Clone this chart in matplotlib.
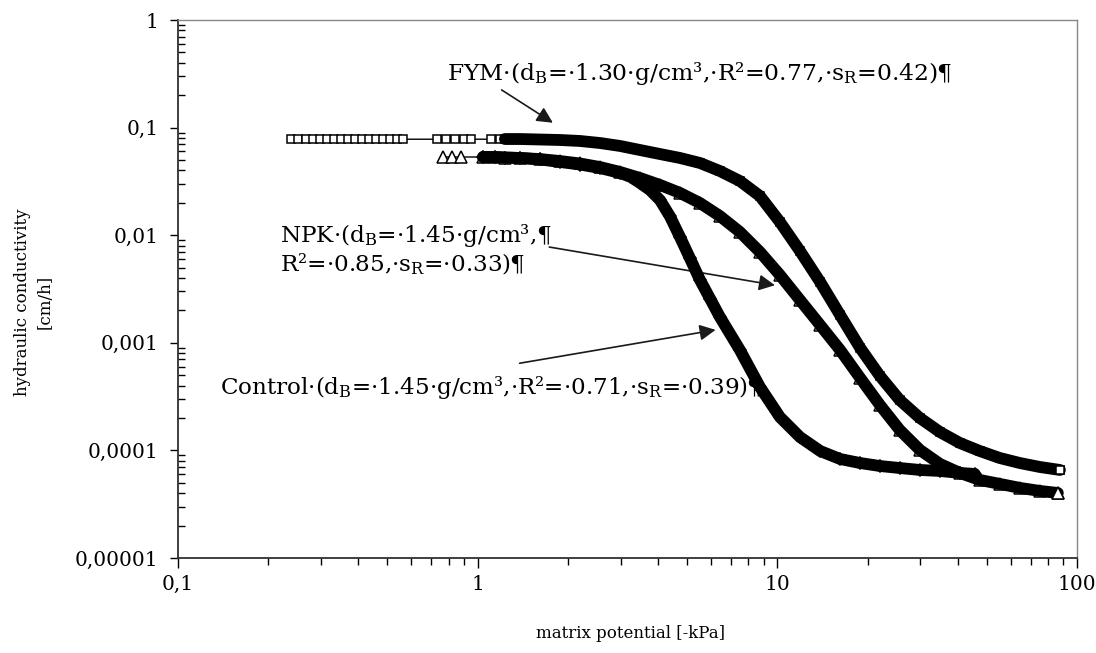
import matplotlib
matplotlib.use("Agg")
import matplotlib.pyplot as plt
from matplotlib.ticker import FixedLocator, FixedFormatter, NullFormatter

plt.rcParams['font.family'] = ['DejaVu Serif']
plt.rcParams['mathtext.fontset'] = 'dejavuserif'

# ---------------- data ----------------
x_ticks = [0.1, 1, 10, 100]
x_tick_labels = ["0,1", "1", "10", "100"]
y_ticks = [1e-5, 1e-4, 1e-3, 1e-2, 1e-1, 1]
y_tick_labels = ["0,00001", "0,0001", "0,001", "0,01", "0,1", "1"]

# FYM (squares)
fym_x = [0.238, 0.251, 0.267, 0.282, 0.298, 0.314, 0.332, 0.350, 0.369, 0.390,
         0.411, 0.434, 0.458, 0.483, 0.509, 0.538, 0.564,
         0.731, 0.783, 0.839, 0.899, 0.951,
         1.107, 1.187,
         1.233, 1.384, 1.614, 1.882, 2.195, 2.559, 2.985, 3.481, 4.059, 4.733,
         5.519, 6.43, 7.50, 8.75, 10.2, 11.9, 13.9, 16.2, 18.9, 22.0,
         25.6, 29.9, 34.9, 40.7, 47.4, 55.3, 64.5, 75.2, 87.7]
fym_y = [0.078, 0.078, 0.078, 0.078, 0.078, 0.078, 0.078, 0.078, 0.078, 0.078,
         0.078, 0.078, 0.078, 0.078, 0.078, 0.078, 0.078,
         0.078, 0.078, 0.078, 0.078, 0.078,
         0.078, 0.078,
         0.0783, 0.0783, 0.0775, 0.0767, 0.0751, 0.0719, 0.0675, 0.0619, 0.0568, 0.0522,
         0.0469, 0.0395, 0.0319, 0.0231, 0.01327, 0.00713, 0.00367, 0.00181, 0.000895, 0.000491,
         0.000294, 0.000200, 0.000148, 0.000117, 9.87e-5, 8.49e-5, 7.63e-5, 7.01e-5, 6.58e-5]

# NPK (triangles)
npk_x = [0.765, 0.820, 0.879,
         1.042, 1.142, 1.233, 1.384, 1.614, 1.882, 2.195, 2.559, 2.985, 3.481,
         4.059, 4.733, 5.519, 6.43, 7.50, 8.75, 10.2, 11.9, 13.9, 16.2,
         18.9, 22.0, 25.6, 29.9, 34.9, 40.7, 47.4, 55.3, 64.5, 75.2, 86.3]
npk_y = [0.0533, 0.0533, 0.0533,
         0.0533, 0.0533, 0.0527, 0.0522, 0.0510, 0.0489, 0.0464, 0.0430, 0.0387, 0.0340,
         0.0293, 0.0247, 0.0199, 0.01507, 0.01071, 0.00698, 0.00427, 0.00250, 0.00146, 0.000857,
         0.000471, 0.000264, 0.000155, 0.000101, 7.48e-5, 6.17e-5, 5.31e-5, 4.88e-5, 4.48e-5, 4.20e-5, 4.02e-5]

# Control (diamonds)
ctl_x = [1.042, 1.142, 1.233, 1.384, 1.614, 1.882, 2.195, 2.559, 2.985, 3.24, 3.481,
         3.76, 4.059, 4.38, 4.733, 5.11, 5.519, 5.96, 6.43, 7.50, 8.75, 10.2, 11.9, 13.9, 16.2,
         18.9, 22.0, 25.6, 29.9, 34.9, 40.7, 45.6]
ctl_y = [0.0533, 0.0533, 0.0527, 0.0522, 0.0506, 0.0479, 0.0454, 0.0421, 0.0379, 0.0348, 0.0306,
         0.0263, 0.0212, 0.0150, 0.00962, 0.00610, 0.00384, 0.00258, 0.00174, 0.000857, 0.000388,
         0.000204, 0.000133, 9.87e-5, 8.32e-5,
         7.63e-5, 7.16e-5, 6.86e-5, 6.58e-5, 6.44e-5, 6.17e-5, 6.04e-5]

# start of the densely measured part (kPa) for each series
fym_dense_from = 1.2
npk_dense_from = 1.0
ctl_dense_from = 1.0

label_fym = r"FYM·(d$_\mathregular{B}$=·1.30·g/cm³,·R²=0.77,·s$_\mathregular{R}$=0.42)¶"
label_npk = "NPK·(d$_\\mathregular{B}$=·1.45·g/cm³,¶\nR²=·0.85,·s$_\\mathregular{R}$=·0.33)¶"
label_ctl = r"Control·(d$_\mathregular{B}$=·1.45·g/cm³,·R²=·0.71,·s$_\mathregular{R}$=·0.39)¶"

# ---------------- figure ----------------
fig = plt.figure(figsize=(10.96, 6.53), dpi=100)
ax = fig.add_axes([178 / 1096, 95 / 653, 899 / 1096, 538 / 653])
ax.set_xscale('log')
ax.set_yscale('log')
ax.set_xlim(0.1, 100)
ax.set_ylim(1e-5, 1)

series = [
    (ctl_x, ctl_y, 'D', 6, ctl_dense_from, False),
    (npk_x, npk_y, '^', 8, npk_dense_from, True),
    (fym_x, fym_y, 's', 6, fym_dense_from, True),
]
for xs, ys, mk, ms, dense_from, show_end in series:
    ax.plot(xs, ys, '-', color='black', lw=1.0, marker=mk, ms=ms,
            mfc='white', mec='black', mew=1.1, zorder=3)
    dx = [x for x in xs if x >= dense_from]
    dy = [y for x, y in zip(xs, ys) if x >= dense_from]
    ax.plot(dx, dy, '-', color='black', lw=8.5, solid_capstyle='round',
            solid_joinstyle='round', zorder=4)
    if show_end:
        ax.plot(xs[-1:], ys[-1:], linestyle='none', marker=mk, ms=ms,
                mfc='white', mec='black', mew=1.1, zorder=5)

# ticks
ax.xaxis.set_major_locator(FixedLocator(x_ticks))
ax.xaxis.set_major_formatter(FixedFormatter(x_tick_labels))
ax.yaxis.set_major_locator(FixedLocator(y_ticks))
ax.yaxis.set_major_formatter(FixedFormatter(y_tick_labels))
ax.xaxis.set_minor_formatter(NullFormatter())
ax.yaxis.set_minor_formatter(NullFormatter())
ax.tick_params(axis='x', which='major', direction='out', length=7, width=1, pad=5,
               labelsize=14.5)
ax.tick_params(axis='x', which='minor', direction='out', length=5, width=1)
ax.tick_params(axis='y', which='major', direction='out', length=6, width=1, pad=8,
               labelsize=14.5)
ax.tick_params(axis='y', which='minor', direction='in', length=5, width=1)

for side in ['left', 'bottom']:
    ax.spines[side].set_color('#303030')
    ax.spines[side].set_linewidth(1.3)
for side in ['top', 'right']:
    ax.spines[side].set_color('#888888')
    ax.spines[side].set_linewidth(1.0)

# axis labels
fig.text(630 / 1096, 1 - 633 / 653, "matrix potential [-kPa]", ha='center', va='center',
         fontsize=12)
fig.text(34 / 1096, 1 - 302 / 653, "hydraulic conductivity\n[cm/h]", ha='center',
         va='center', rotation=90, fontsize=12, linespacing=1.45, multialignment='center')

# annotations
aprops = dict(arrowstyle='-|>', mutation_scale=24, lw=1.2, color='#1a1a1a',
              shrinkA=0, shrinkB=0)
ax.text(0.299, 0.901, label_fym, transform=ax.transAxes, ha='left', va='center', fontsize=16.9)
ax.annotate("", xy=(0.417, 0.809), xytext=(0.360, 0.870), xycoords='axes fraction',
            textcoords='axes fraction', arrowprops=aprops)
ax.text(0.1135, 0.574, label_npk, transform=ax.transAxes, ha='left', va='center',
        fontsize=16.7, linespacing=1.15)
ax.annotate("", xy=(0.664, 0.507), xytext=(0.413, 0.578), xycoords='axes fraction',
            textcoords='axes fraction', arrowprops=aprops)
ax.text(0.0467, 0.316, label_ctl, transform=ax.transAxes, ha='left', va='center',
        fontsize=16.6)
ax.annotate("", xy=(0.598, 0.424), xytext=(0.380, 0.362), xycoords='axes fraction',
            textcoords='axes fraction', arrowprops=aprops)

fig.savefig("out.png", dpi=100)
